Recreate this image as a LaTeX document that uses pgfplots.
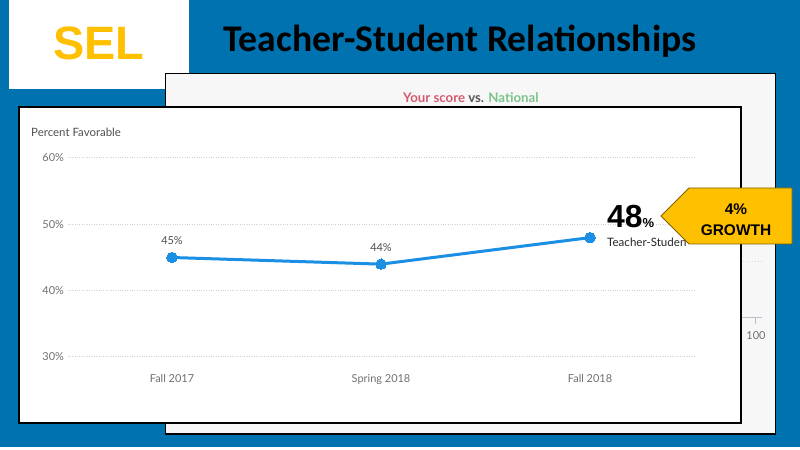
\documentclass[border=0pt]{standalone}
\usepackage{pgfplots}
\pgfplotsset{compat=1.18}
\usepackage{fontspec}
\setmainfont{Lato}
\newfontfamily\titlefont{Carlito}
\newfontfamily\arialfont{Liberation Sans}

\definecolor{slideblue}{HTML}{0072B0}
\definecolor{selyellow}{HTML}{FFC000}
\definecolor{panelgray}{HTML}{F7F7F7}
\definecolor{lineblue}{HTML}{1A8FE3}
\definecolor{scorered}{HTML}{D45A70}
\definecolor{natgreen}{HTML}{7CC38D}
\definecolor{vsgray}{HTML}{555555}
\definecolor{ticktext}{HTML}{707070}
\definecolor{labeltext}{HTML}{505050}
\definecolor{arrowedge}{HTML}{7F6000}

% slide coordinates: 1bp units, origin top-left, y pointing down
\tikzset{slide/.style={x=1bp, y=-1bp, shift={(0bp,450bp)}}}

\begin{document}
\begin{tikzpicture}
\useasboundingbox (0,0) rectangle (800bp,450bp);
\begin{scope}[slide]
% slide background
\fill[slideblue] (0,0) rectangle (800,447);
\fill[white] (0,447) rectangle (800,450);
\fill[white] (9,0) rectangle (189,89);
\node[font=\arialfont\bfseries\fontsize{47}{47}\selectfont, text=selyellow] at (99,43) {SEL};
\node[anchor=base west, font=\titlefont\bfseries\fontsize{37.8}{37.8}\selectfont] at (220,52) {Teacher-Student Relationships};

% report panel behind the chart
\draw[line width=1.5bp, fill=panelgray] (165.5,73.5) rectangle (775.5,434);
\node[anchor=base west, font=\bfseries\fontsize{13.3}{13.3}\selectfont, inner sep=0] at (403,103)
  {\textcolor{scorered}{Your score} \textcolor{vsgray}{vs.} \textcolor{natgreen}{National}};
\draw[black!15, dotted, line width=1bp] (743,262) -- (762,262);
\draw[blue!15!gray!45] (741,317) -- (762,317) (755,317) -- (755,324);
\node[font=\fontsize{11}{11}\selectfont, text=ticktext, anchor=base, inner sep=0] at (756,340) {100};

% chart panel
\draw[line width=2bp, fill=white] (19,107) rectangle (741,423);
\node[anchor=base west, font=\fontsize{11.5}{11.5}\selectfont, text=labeltext, inner sep=0] at (31,137) {Percent Favorable};
\end{scope}

\begin{axis}[
  at={(67.5bp,93bp)}, anchor=south west,
  scale only axis, width=627bp, height=199bp,
  xmin=-0.5, xmax=2.5, ymin=30, ymax=60,
  xtick={0,1,2}, xticklabels={Fall 2017,Spring 2018,Fall 2018},
  ytick={30,40,50,60},
  yticklabel={\pgfmathprintnumber{\tick}\%},
  /pgf/number format/assume math mode=true,
  axis line style={draw=none},
  major tick length=0pt,
  ymajorgrids,
  grid style={dotted, line width=1bp, black!18},
  tick label style={font=\fontsize{11}{11}\selectfont, text=ticktext},
  xticklabel style={yshift=-14bp},
  clip=false,
]
\addplot[lineblue, line width=3bp, mark=*, mark size=5.3pt, mark options={fill=lineblue, draw=lineblue, line width=0pt}]
  coordinates {(0,45) (1,44) (2,48)};
\node[font=\fontsize{11}{11}\selectfont, text=labeltext, anchor=base] at (axis cs:0,45) [yshift=13bp] {45\%};
\node[font=\fontsize{11}{11}\selectfont, text=labeltext, anchor=base] at (axis cs:1,44) [yshift=13bp] {44\%};
\node[anchor=base west, inner sep=0] at (axis cs:2,48) [xshift=17bp, yshift=10bp]
  {\arialfont\bfseries\fontsize{32}{32}\selectfont 48\fontsize{13}{13}\selectfont\%};
\end{axis}

\begin{scope}[slide]
% series name under the big value, cut at the edge of its box
\begin{scope}
\clip (600,228) rectangle (686,252);
\node[anchor=base west, inner sep=0, font=\fontsize{11.6}{11.6}\selectfont, text=black!85] at (607,247)
  {Teacher-Student};
\end{scope}
% growth callout
\draw[fill=selyellow, draw=arrowedge, line width=0.8bp]
  (661,216) -- (689,188) -- (792,188) -- (792,244) -- (689,244) -- cycle;
\node[anchor=base, inner sep=0, font=\arialfont\bfseries\fontsize{15.5}{15.5}\selectfont] at (736,215) {4\%};
\node[anchor=base, inner sep=0, font=\arialfont\bfseries\fontsize{15.5}{15.5}\selectfont] at (736,236) {GROWTH};
\end{scope}
\end{tikzpicture}
\end{document}
